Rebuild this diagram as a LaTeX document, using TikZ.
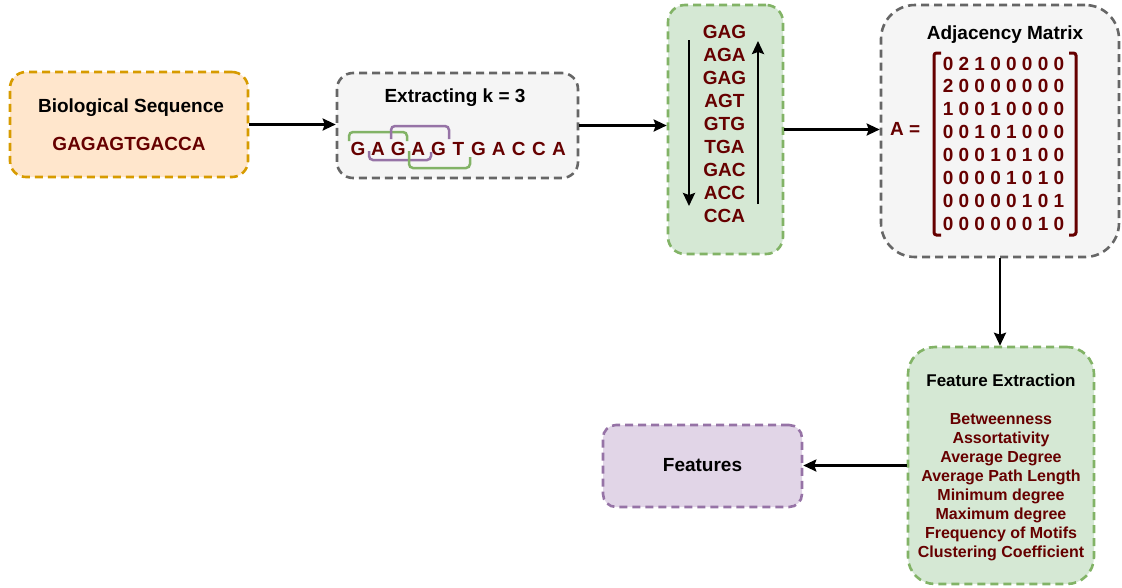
\documentclass[tikz,border=0pt]{standalone}
\usepackage{fontspec}
\setmainfont{Liberation Sans}
\usetikzlibrary{arrows.meta}
\definecolor{dred}{HTML}{660000}
\definecolor{orfill}{HTML}{FFE6CC}\definecolor{ordraw}{HTML}{D79B00}
\definecolor{gyfill}{HTML}{F5F5F5}\definecolor{gydraw}{HTML}{666666}
\definecolor{grfill}{HTML}{D5E8D4}\definecolor{grdraw}{HTML}{82B366}
\definecolor{pufill}{HTML}{E1D5E7}\definecolor{pudraw}{HTML}{9673A6}
\begin{document}
\begin{tikzpicture}[x=1pt,y=-1pt,
  box/.style={draw, line width=2.6pt, dash pattern=on 8pt off 5pt, rounded corners=#1, inner sep=0pt},
  box/.default=15pt,
  conn/.style={line width=2.4pt, -{Stealth[length=13pt,width=12pt,inset=2pt]}},
  ttl/.style={font=\fontsize{19}{23}\selectfont\bfseries, anchor=base, inner sep=0pt},
  red/.style={font=\fontsize{19}{23}\selectfont\bfseries, text=dred, anchor=base, inner sep=0pt},
  item/.style={font=\fontsize{16}{19}\selectfont\bfseries, text=dred, anchor=base, inner sep=0pt},
  brk/.style={line width=2.5pt, rounded corners=4pt}
]
\useasboundingbox (0,0) rectangle (1122,587);

% boxes
\node[box=16pt, fill=orfill, draw=ordraw, minimum width=238pt, minimum height=105pt] (bio) at (129,124.5) {};
\node[box=16pt, fill=gyfill, draw=gydraw, minimum width=241pt, minimum height=105pt] (ext) at (457.5,125.5) {};
\node[box=17pt, fill=grfill, draw=grdraw, minimum width=115pt, minimum height=249pt] (kmer) at (725.5,129.5) {};
\node[box=34pt, fill=gyfill, draw=gydraw, minimum width=238pt, minimum height=252pt] (adj) at (1000,131) {};
\node[box=27pt, fill=grfill, draw=grdraw, minimum width=186pt, minimum height=237pt] (fe) at (1001,465.5) {};
\node[box=13pt, fill=pufill, draw=pudraw, minimum width=199pt, minimum height=82pt] (feat) at (702.5,466) {};

% biological sequence
\node[ttl] (biot) at (131,112) {Biological Sequence};
\node[red] (bios) at (129,150.5) {GAGAGTGACCA};

% extracting
\node[ttl] (extt) at (455,102.3) {Extracting k = 3};
\draw[brk, grdraw] (349,141) -- (349,132) -- (407,132) -- (407,141);
\draw[brk, pudraw] (391,139) -- (391,126) -- (449,126) -- (449,139);
\draw[brk, pudraw] (369,151) -- (369,160) -- (431,160) -- (431,152);
\draw[brk, grdraw] (409,151) -- (409,168) -- (470,168) -- (470,157);
\foreach \l [count=\i from 0] in {G,A,G,A,G,T,G,A,C,C,A}
  \node[red] (let\i) at (358+20.1*\i,155) {\l};

% k-mers
\foreach \k [count=\i from 0] in {GAG,AGA,GAG,AGT,GTG,TGA,GAC,ACC,CCA}
  \node[red] (km\i) at (724.5,38.3+23.05*\i) {\k};
\coordinate (dA) at (689,40);
\coordinate (dB) at (689,206);
\coordinate (uA) at (758,204);
\coordinate (uB) at (758,41);
\draw[conn] (dA) -- (dB);
\draw[conn] (uA) -- (uB);

% adjacency matrix
\node[ttl] (adjt) at (1005,39.3) {Adjacency Matrix};
\node[red, anchor=base west] (aeq) at (890,135.7) {A =};
\foreach \r [count=\i from 0] in {0 2 1 0 0 0 0 0,2 0 0 0 0 0 0 0,1 0 0 1 0 0 0 0,0 0 1 0 1 0 0 0,0 0 0 1 0 1 0 0,0 0 0 0 1 0 1 0,0 0 0 0 0 1 0 1,0 0 0 0 0 0 1 0}
  \node[red] (row\i) at (1003.5,70+22.86*\i) {\r};
\draw[dred, line width=3pt, rounded corners=2.5pt] (941,53) -- (934,53) -- (934,235) -- (941,235);
\draw[dred, line width=3pt, rounded corners=2.5pt] (1069,53) -- (1076,53) -- (1076,235) -- (1069,235);

% feature extraction
\node[ttl, font=\fontsize{17}{20}\selectfont\bfseries] (fet) at (1001,386.7) {Feature Extraction};
\foreach \f [count=\i from 0] in {Betweenness,Assortativity,Average Degree,Average Path Length,Minimum degree,Maximum degree,Frequency of Motifs,Clustering Coefficient}
  \node[item] (fi\i) at (1001,424+19.04*\i) {\f};

% features
\node[ttl] (featt) at (702.5,471.7) {Features};

% connectors
\draw[conn] (bio.east) -- (bio.east -| ext.west);
\draw[conn] (ext.east) -- (ext.east -| kmer.west);
\draw[conn] (kmer.east) -- (kmer.east -| adj.west);
\draw[conn] (adj.south) -- (adj.south |- fe.north);
\draw[conn] (fe.west) -- (fe.west -| feat.east);
\end{tikzpicture}
\end{document}
